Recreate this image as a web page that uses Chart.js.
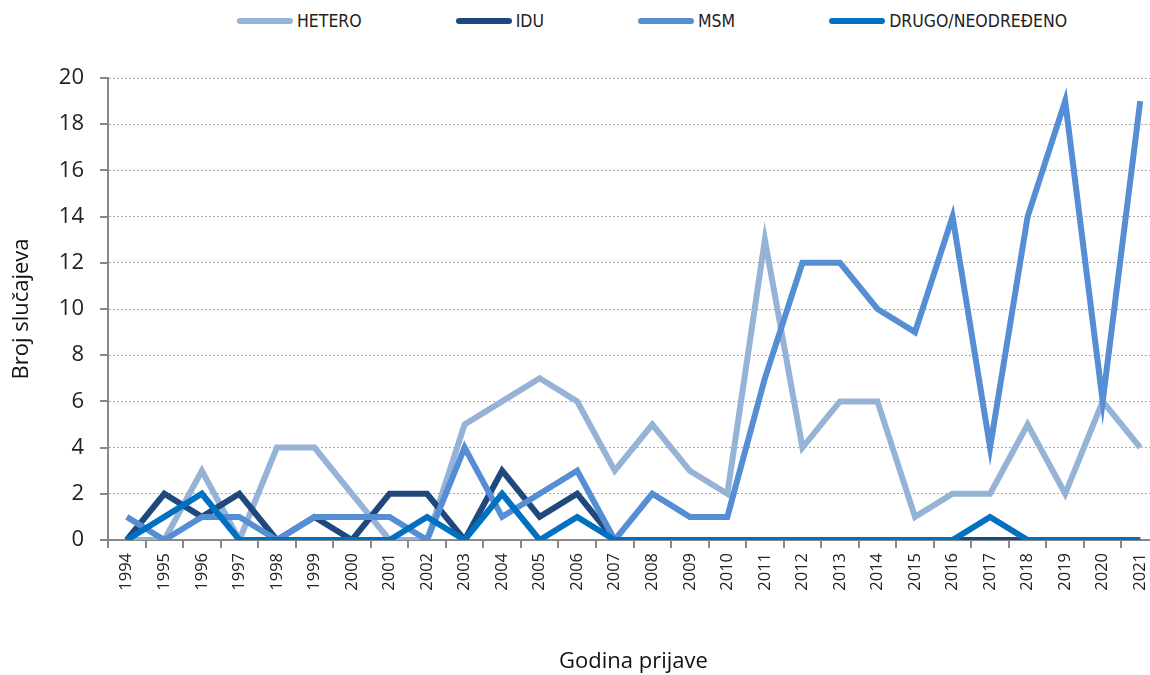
<!DOCTYPE html>
<html>
<head>
<meta charset="utf-8">
<title>Broj slučajeva po godini prijave</title>
<script src="https://cdn.jsdelivr.net/npm/chart.js@4.4.1/dist/chart.umd.min.js"></script>
<style>
  body { margin: 0; width: 1150px; height: 675px; overflow: hidden; background: #fff; position: relative; }
  #wrap { position: absolute; left: 0; top: 0; width: 1170px; height: 675px; }
  #legend { position: absolute; top: 11px; left: 237px; display: flex; gap: 94px; align-items: center;
            font-family: "Liberation Sans Narrow", "DejaVu Sans Condensed", sans-serif; font-size: 17.5px; color: #222; }
  #legend .item { display: flex; align-items: center; }
  #legend .sw { width: 56px; height: 6px; border-radius: 3px; margin-right: 4px; }
</style>
</head>
<body>
<div id="legend"></div>
<div id="wrap"><canvas id="chart" width="1170" height="675"></canvas></div>
<script>
/* ========== DATA ========== */
const years = ["1994", "1995", "1996", "1997", "1998", "1999", "2000", "2001", "2002", "2003",
  "2004", "2005", "2006", "2007", "2008", "2009", "2010", "2011", "2012", "2013",
  "2014", "2015", "2016", "2017", "2018", "2019", "2020", "2021"];

const hetero = [0, 0, 3, 0, 4, 4, 2, 0, 0, 5, 6, 7, 6, 3, 5, 3, 2, 13, 4, 6, 6, 1, 2, 2, 5, 2, 6, 4];
const idu    = [0, 2, 1, 2, 0, 1, 0, 2, 2, 0, 3, 1, 2, 0, 0, 0, 0, 0, 0, 0, 0, 0, 0, 0, 0, 0, 0, 0];
const msm    = [1, 0, 1, 1, 0, 1, 1, 1, 0, 4, 1, 2, 3, 0, 2, 1, 1, 7, 12, 12, 10, 9, 14, 4, 14, 19, 6, 19];
const drugo  = [0, 1, 2, 0, 0, 0, 0, 0, 1, 0, 2, 0, 1, 0, 0, 0, 0, 0, 0, 0, 0, 0, 0, 1, 0, 0, 0, 0];

const yTicks = [0, 2, 4, 6, 8, 10, 12, 14, 16, 18, 20];

const series = [
  { label: "HETERO", data: hetero, color: "#95B3D7", order: 4 },
  { label: "IDU", data: idu, color: "#1F497D", order: 3 },
  { label: "MSM", data: msm, color: "#558ED5", order: 2 },
  { label: "DRUGO/NEODREĐENO", data: drugo, color: "#0070C0", order: 1 },
];

/* ========== LEGEND (html) ========== */
const legendEl = document.getElementById("legend");
series.forEach((s) => {
  const item = document.createElement("div");
  item.className = "item";
  item.innerHTML = `<span class="sw" style="background:${s.color}"></span><span>${s.label}</span>`;
  legendEl.appendChild(item);
});

/* ========== Y TICK MARKS (solid, outside the dotted grid) ========== */
const yTickMarks = {
  id: "yTickMarks",
  afterDraw(chart) {
    const y = chart.scales.y;
    const ctx = chart.ctx;
    ctx.save();
    ctx.strokeStyle = "#888";
    ctx.lineWidth = 2;
    yTicks.forEach((v) => {
      const py = Math.round(y.getPixelForValue(v));
      ctx.beginPath();
      ctx.moveTo(y.right - 8, py);
      ctx.lineTo(y.right, py);
      ctx.stroke();
    });
    ctx.restore();
  },
};

/* ========== CHART ========== */
new Chart(document.getElementById("chart").getContext("2d"), {
  type: "line",
  data: {
    labels: years,
    datasets: series.map((s) => ({
      label: s.label,
      data: s.data,
      borderColor: s.color,
      backgroundColor: s.color,
      borderWidth: 6,
      pointRadius: 0,
      tension: 0,
      order: s.order,
    })),
  },
  options: {
    responsive: false,
    animation: false,
    layout: { padding: { top: 78, right: 11, left: 0, bottom: 0 } },
    plugins: {
      legend: { display: false },
      tooltip: { enabled: false },
    },
    scales: {
      x: {
        offset: true,
        grid: { display: true, drawOnChartArea: false, offset: true, tickLength: 8, color: "#888", lineWidth: 2 },
        border: { color: "#888", width: 2 },
        ticks: {
          minRotation: 90, maxRotation: 90, padding: 5, autoSkip: false,
          color: "#222", font: { family: "Open Sans", size: 16.5 },
        },
        title: {
          display: true, text: "Godina prijave", color: "#111",
          font: { family: "Open Sans", size: 22 }, padding: { top: 0, bottom: 0 },
        },
        afterFit(scale) { scale.height = 135; },
      },
      y: {
        min: 0, max: 20,
        afterBuildTicks(scale) { scale.ticks = yTicks.map((v) => ({ value: v })); },
        grid: { color: "#aaa", lineWidth: 1, tickLength: 8, tickColor: "rgba(0,0,0,0)" },
        border: { color: "#888", width: 2, dash: [2, 2] },
        ticks: { padding: 16, color: "#222", font: { family: "Open Sans", size: 22 } },
        title: {
          display: true, text: "Broj slučajeva", color: "#111",
          font: { family: "Open Sans", size: 22 }, padding: { top: 9, bottom: 0 },
        },
        afterFit(scale) { scale.width = 108; },
      },
    },
  },
  plugins: [yTickMarks],
});
</script>
</body>
</html>
